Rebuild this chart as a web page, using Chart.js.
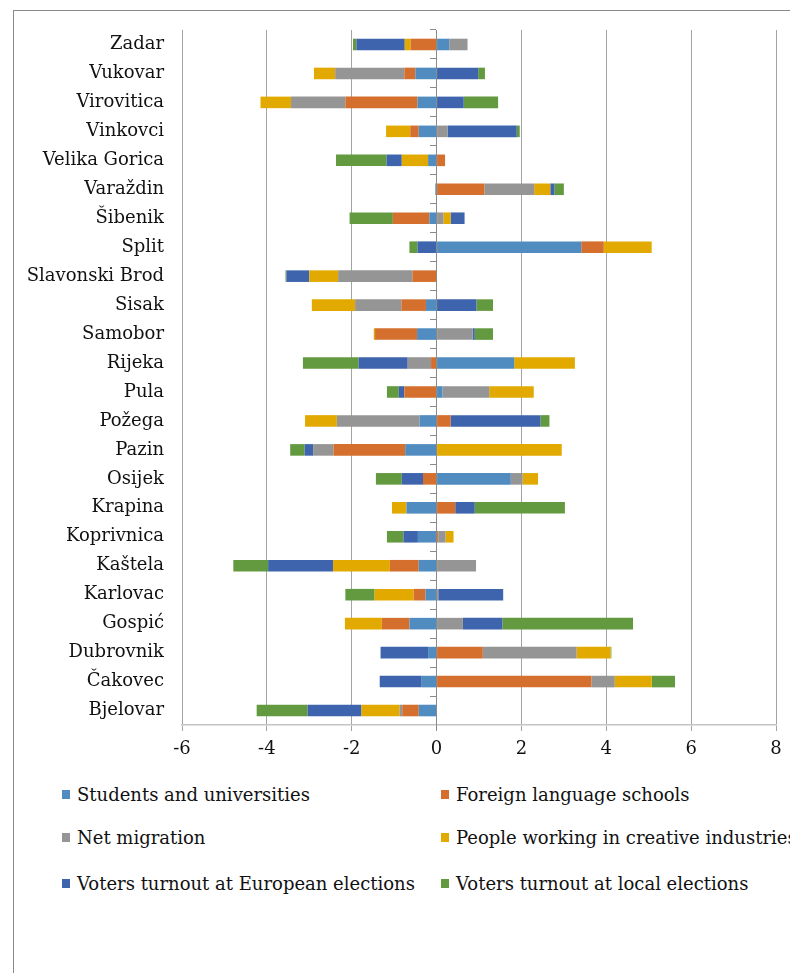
<!DOCTYPE html>
<html>
<head>
<meta charset="utf-8">
<script src="https://cdn.jsdelivr.net/npm/chart.js@4/dist/chart.umd.min.js"></script>
<style>
  html, body { margin: 0; padding: 0; background: #fff; overflow: hidden; width: 790px; height: 973px; }
  #frame { position: absolute; left: 13px; top: 10px; width: 900px; height: 1100px; border: 1px solid #8a8a8a; box-sizing: border-box; }
  #chart { position: absolute; left: 0; top: 0; }
  #legend { position: absolute; left: 0; top: 0; font-family: "DejaVu Serif", serif; font-size: 18px; color: #111; white-space: nowrap; }
  .item { position: absolute; display: flex; align-items: center; height: 20px; }
  .sw { width: 8px; height: 9px; margin-right: 7px; }
</style>
</head>
<body>
<div id="frame"></div>
<canvas id="chart" width="790" height="770"></canvas>
<div id="legend"></div>
<script>
// Cities, top to bottom
const cities = ['Zadar', 'Vukovar', 'Virovitica', 'Vinkovci', 'Velika Gorica', 'Varaždin', 'Šibenik', 'Split',
  'Slavonski Brod', 'Sisak', 'Samobor', 'Rijeka', 'Pula', 'Požega', 'Pazin', 'Osijek', 'Krapina', 'Koprivnica',
  'Kaštela', 'Karlovac', 'Gospić', 'Dubrovnik', 'Čakovec', 'Bjelovar'];

const seriesNames = ['Students and universities', 'Foreign language schools', 'Net migration',
  'People working in creative industries', 'Voters turnout at European elections', 'Voters turnout at local elections'];

const students  = [0.30, -0.50, -0.45, -0.42, -0.20, -0.03, -0.17, 3.41, 0, -0.25, -0.46, 1.83, 0.14, -0.40, -0.74, 1.75, -0.71, -0.44, -0.42, -0.26, -0.64, -0.20, -0.35, -0.42];
const foreignLanguage = [-0.61, -0.26, -1.70, -0.20, 0.20, 1.13, -0.86, 0.53, -0.57, -0.58, -0.99, -0.13, -0.76, 0.33, -1.69, -0.32, 0.44, 0.04, -0.68, -0.28, -0.65, 1.09, 3.65, -0.39];
const netMigration = [0.43, -1.63, -1.28, 0.26, 0, 1.17, 0.16, 0, -1.75, -1.09, 0.85, -0.55, 1.10, -1.95, -0.48, 0.28, 0, 0.17, 0.93, 0.04, 0.62, 2.21, 0.55, -0.06];
const creative  = [-0.14, -0.50, -0.72, -0.57, -0.62, 0.38, 0.17, 1.13, -0.68, -1.02, -0.03, 1.43, 1.05, -0.75, 2.95, 0.36, -0.34, 0.19, -1.34, -0.92, -0.87, 0.80, 0.87, -0.90];
const european  = [-1.14, 0.98, 0.64, 1.63, -0.36, 0.10, 0.33, -0.45, -0.54, 0.94, 0.05, -1.16, -0.13, 2.12, -0.20, -0.50, 0.46, -0.34, -1.53, 1.53, 0.93, -1.12, -0.99, -1.27];
const local     = [-0.08, 0.16, 0.81, 0.07, -1.19, 0.22, -1.02, -0.19, -0.02, 0.39, 0.43, -1.31, -0.28, 0.21, -0.34, -0.61, 2.125, -0.39, -0.82, -0.69, 3.08, 0.02, 0.55, -1.20];

const xTicks = [-6, -4, -2, 0, 2, 4, 6, 8];
const colors = ['#518cc0', '#d56f2d', '#959595', '#e2aa00', '#3e64ad', '#639a3f'];

const seriesValues = [students, foreignLanguage, netMigration, creative, european, local];
const serif = '"DejaVu Serif", serif';

const chart = new Chart(document.getElementById('chart'), {
  type: 'bar',
  data: {
    labels: cities,
    datasets: seriesValues.map((vals, i) => ({
      label: seriesNames[i],
      data: vals,
      backgroundColor: colors[i],
      borderWidth: 0,
      categoryPercentage: 1,
      barPercentage: 0.4
    }))
  },
  options: {
    indexAxis: 'y',
    responsive: false,
    animation: false,
    layout: { padding: { top: 30, right: 14, bottom: 0, left: 0 } },
    plugins: { legend: { display: false }, tooltip: { enabled: false } },
    scales: {
      x: {
        stacked: true,
        min: xTicks[0],
        max: xTicks[xTicks.length - 1],
        afterBuildTicks: s => { s.ticks = xTicks.map(v => ({ value: v })); },
        afterFit: s => { s.height = 45; },
        grid: {
          color: c => (c.tick && c.tick.value === 0) ? '#8a8a8a' : '#a3a3a3',
          lineWidth: 1,
          drawTicks: true,
          tickLength: 6
        },
        border: { display: true, color: '#c4c4c4', width: 1.5 },
        ticks: { font: { family: serif, size: 18 }, color: '#111', padding: 8 }
      },
      y: {
        stacked: true,
        afterFit: s => { s.width = 182; },
        grid: { display: false, drawTicks: false },
        border: { display: false },
        ticks: { font: { family: serif, size: 18 }, color: '#111', padding: 18, autoSkip: false }
      },
      yZero: {
        type: 'category',
        axis: 'y',
        labels: cities,
        offset: true,
        position: { x: 0 },
        grid: { offset: true, drawOnChartArea: false, drawTicks: true, tickLength: 6, color: '#8a8a8a' },
        border: { display: true, color: '#8a8a8a', width: 1 },
        ticks: { display: false }
      }
    }
  }
});

// Two-column legend built from the chart's datasets
const legend = document.getElementById('legend');
const rowsY = [784, 827, 873];
const colsX = [62, 441];
chart.data.datasets.forEach((ds, i) => {
  const el = document.createElement('div');
  el.className = 'item';
  el.style.left = colsX[i % 2] + 'px';
  el.style.top = rowsY[Math.floor(i / 2)] + 'px';
  const sw = document.createElement('span');
  sw.className = 'sw';
  sw.style.background = ds.backgroundColor;
  const tx = document.createElement('span');
  tx.textContent = ds.label;
  el.appendChild(sw);
  el.appendChild(tx);
  legend.appendChild(el);
});
</script>
</body>
</html>
